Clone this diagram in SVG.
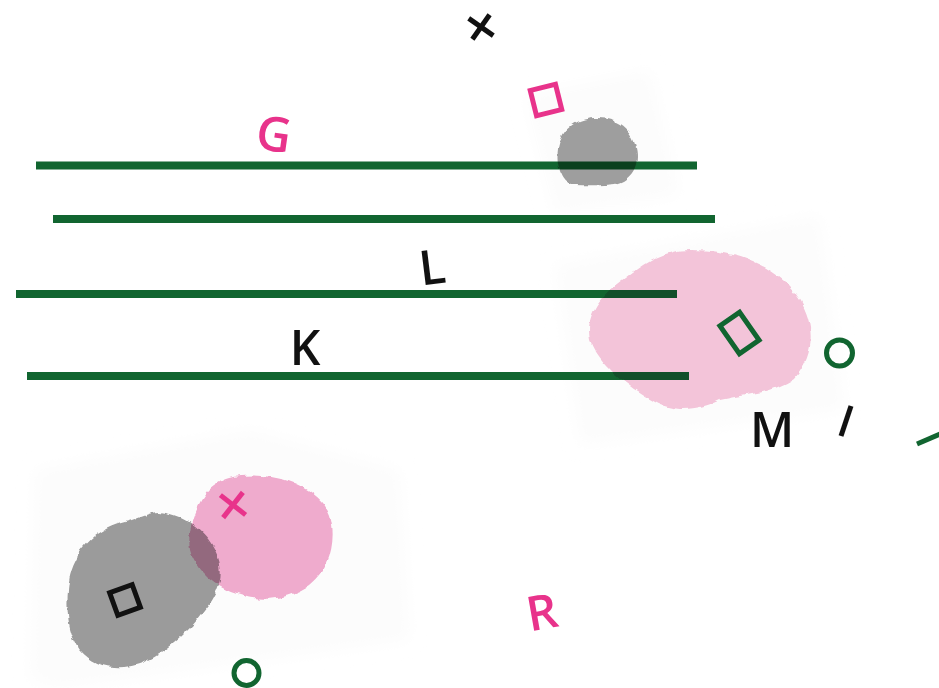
<svg xmlns="http://www.w3.org/2000/svg" width="939" height="688" viewBox="0 0 939 688">
<defs>
<filter id="rough" x="-20%" y="-20%" width="140%" height="140%">
<feTurbulence type="fractalNoise" baseFrequency="0.09" numOctaves="2" seed="3" result="n"/>
<feDisplacementMap in="SourceGraphic" in2="n" scale="6" xChannelSelector="R" yChannelSelector="G"/>
</filter>
<filter id="soft" x="-10%" y="-10%" width="120%" height="120%"><feGaussianBlur stdDeviation="8"/></filter>
<style>
.ln{stroke:#116530;stroke-width:8;fill:none}
.blob{filter:url(#rough);mix-blend-mode:multiply}
.mk{fill:none;stroke-width:5}
.pk{stroke:#e8338b}
.gr{stroke:#116530}
.bk{stroke:#111}
.t{font-family:"Open Sans","Noto Sans","Liberation Sans",sans-serif;font-size:48px;font-weight:600;text-anchor:middle}
</style>
</defs>
<rect width="939" height="688" fill="#fff"/>
<g id="backdrops" filter="url(#soft)" fill="#fcfcfc">
<polygon points="525,95 650,70 680,195 555,215"/>
<polygon points="555,265 820,215 845,410 580,445"/>
<polygon points="35,470 250,430 400,470 410,640 60,688 30,680"/>
</g>
<g id="lines">
<line class="ln" x1="36" y1="165.5" x2="697" y2="165.5"/>
<line class="ln" x1="53" y1="219" x2="715" y2="219"/>
<line class="ln" x1="16" y1="294" x2="677" y2="294"/>
<line class="ln" x1="27" y1="376" x2="689" y2="376"/>
</g>
<g id="blob-gray-top" class="blob"><path fill="#a0a0a0" d="M595 118 C615 117 632 128 636 148 C640 165 632 180 615 184 C600 186 585 185 572 185 C560 180 556 165 558 150 C560 130 575 119 595 118 Z"/></g>
<g id="blob-pink-right" class="blob"><path fill="#f6c7dc" d="M690 250 C740 250 780 268 800 300 C815 325 815 355 795 378 C770 395 740 395 720 400 C700 410 675 413 655 402 C625 385 600 365 590 340 C585 315 600 295 625 278 C645 262 665 250 690 250 Z"/></g>
<g id="blob-gray-low" class="blob"><path fill="#9d9d9d" d="M160 512 C185 515 205 530 215 550 C225 570 222 590 205 610 C190 630 170 650 145 662 C120 672 95 668 80 650 C65 630 66 600 70 575 C78 545 100 528 125 522 C140 518 150 512 160 512 Z"/></g>
<g id="blob-pink-low" class="blob"><path fill="#f2add0" d="M240 476 C280 472 320 488 330 515 C337 540 330 570 310 585 C290 600 260 602 240 595 C215 588 195 570 190 550 C186 525 200 495 215 485 C225 478 232 477 240 476 Z"/></g>
<g id="x-black"><g transform="translate(481,27) rotate(35)"><line class="mk bk" x1="-15" y1="0" x2="15" y2="0"/><line class="mk bk" x1="0" y1="-15" x2="0" y2="15"/></g></g>
<g id="sq-pink"><rect class="mk pk" x="-13" y="-13" width="26" height="26" transform="translate(546,100) rotate(-14)"/></g>
<g id="label-G"><text class="t" x="274" y="151" fill="#e8338b" transform="rotate(8 274 133)">G</text></g>
<g id="label-L"><text class="t" x="432" y="284" fill="#111" transform="rotate(-7 432 266)">L</text></g>
<g id="label-K"><text class="t" x="305" y="365" fill="#111">K</text></g>
<g id="rect-green"><rect class="mk gr" x="-12" y="-17" width="24" height="34" transform="translate(739.5,333) rotate(-35)"/></g>
<g id="circle-green-right"><circle class="mk gr" cx="839.5" cy="353" r="13"/></g>
<g id="label-M"><text class="t" x="772" y="447" fill="#111">M</text></g>
<g id="slash-black"><line class="mk bk" x1="841" y1="436" x2="851" y2="406"/></g>
<g id="dash-green"><line class="mk gr" x1="917" y1="444" x2="945" y2="432"/></g>
<g id="sq-black"><rect class="mk bk" x="-12" y="-12" width="24" height="24" transform="translate(125,600) rotate(-20)"/></g>
<g id="x-pink"><g transform="translate(233,505) rotate(38)"><line class="mk pk" x1="-16" y1="0" x2="16" y2="0"/><line class="mk pk" x1="0" y1="-16" x2="0" y2="16"/></g></g>
<g id="circle-green-low"><circle class="mk gr" cx="246.5" cy="673" r="12.5"/></g>
<g id="label-R"><text class="t" x="542" y="629" fill="#e8338b" transform="rotate(-10 542 612)">R</text></g>
</svg>
